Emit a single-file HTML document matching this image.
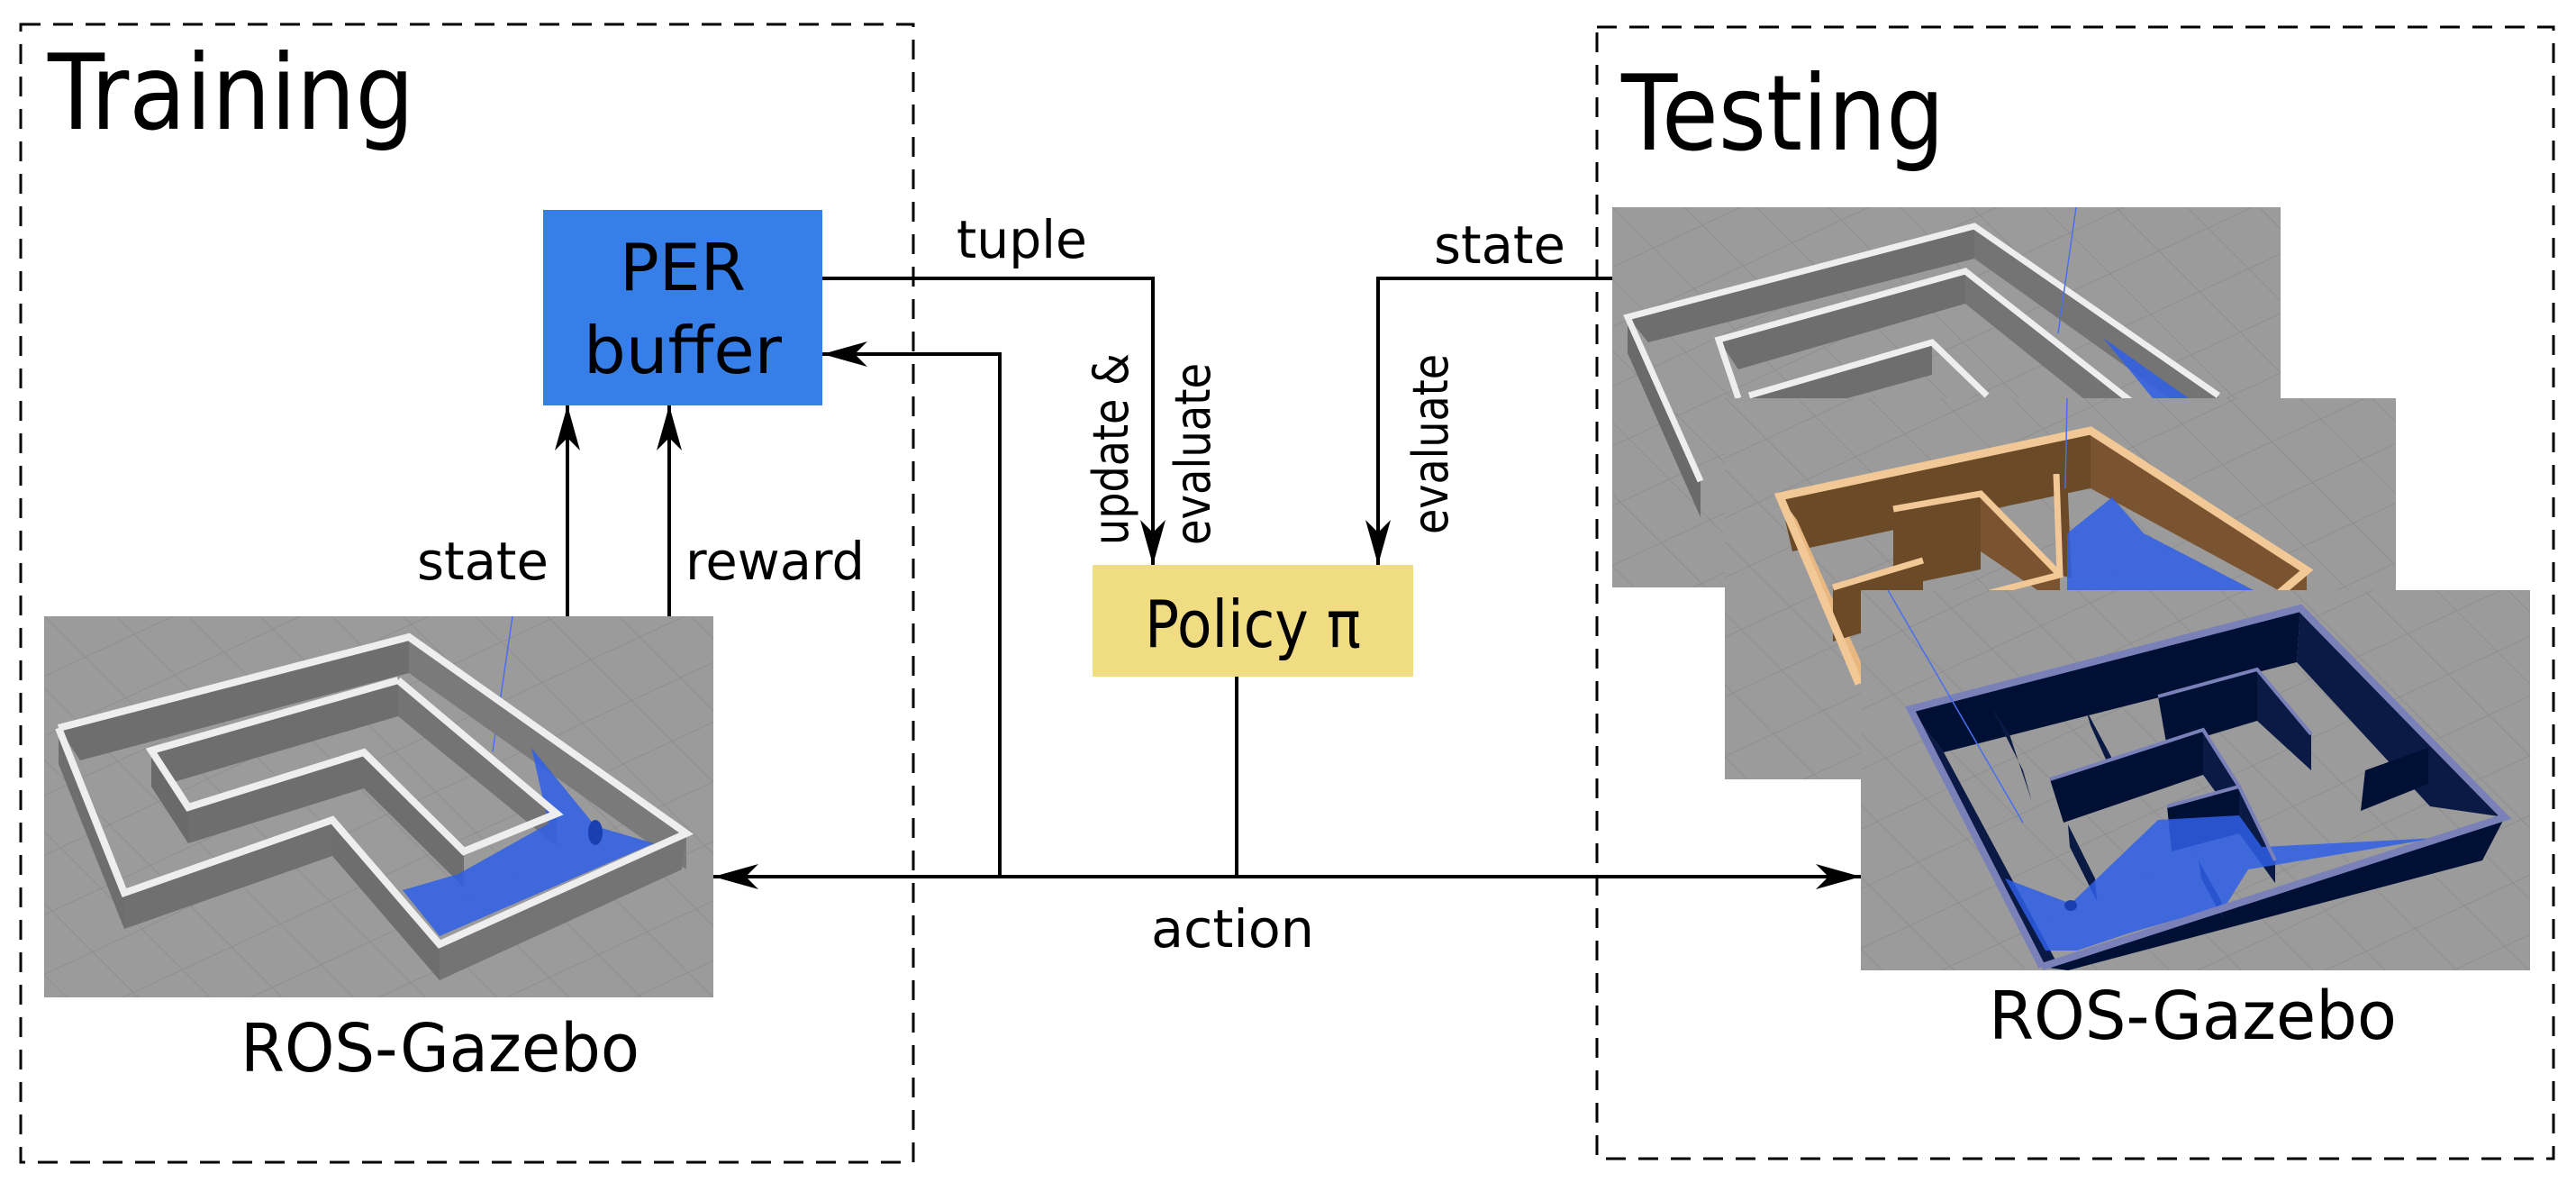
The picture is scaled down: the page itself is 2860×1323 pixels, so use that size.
<!DOCTYPE html>
<html><head><meta charset="utf-8"><style>
html,body{margin:0;padding:0;background:#fff;}
svg{display:block;}
text{font-family:"DejaVu Sans","Liberation Sans",sans-serif;fill:#000;}
</style></head><body>
<svg width="2860" height="1323" viewBox="0 0 2860 1323" xmlns="http://www.w3.org/2000/svg">
<defs>
<marker id="ah" viewBox="0 0 50 28" refX="50" refY="14" markerWidth="50" markerHeight="28" markerUnits="userSpaceOnUse" orient="auto">
<path d="M0,0 L50,14 L0,28 L14,14 Z" fill="#000"/>
</marker>
<pattern id="grid" width="60" height="60" patternUnits="userSpaceOnUse" patternTransform="rotate(-25) skewX(20)">
<rect width="60" height="60" fill="#9b9b9b"/>
<path d="M0,0 L60,0 M0,0 L0,60" stroke="#8a8a8a" stroke-width="1.5"/>
</pattern>
</defs>

<rect x="23" y="27" width="991" height="1263" fill="none" stroke="#000" stroke-width="3" stroke-dasharray="22,14"/>
<rect x="1773" y="30" width="1062" height="1256" fill="none" stroke="#000" stroke-width="3" stroke-dasharray="22,14"/>

<text x="53" y="143" font-size="116" textLength="407" lengthAdjust="spacingAndGlyphs">Training</text>
<text x="1800" y="166" font-size="116" textLength="359" lengthAdjust="spacingAndGlyphs">Testing</text>

<!-- Training image -->
<g transform="translate(49,684)">
<rect width="743" height="423" fill="url(#grid)"/>
<line x1="520" y1="0" x2="498" y2="150" stroke="#4a6ef0" stroke-width="1.5"/>
<polygon points="16,124 405,23 405,63 40,160" fill="#6e6e6e"/>
<polygon points="405,23 713,241 713,281 405,63" fill="#7a7a7a"/>
<polygon points="16,124 89,307 89,347 16,164" fill="#6e6e6e"/>
<polygon points="89,307 320,226 320,266 89,347" fill="#707070"/>
<polygon points="320,226 439,364 439,404 320,266" fill="#6e6e6e"/>
<polygon points="439,364 713,241 708,281 439,404" fill="#747474"/>
<polygon points="119,149 393,71 393,111 140,185" fill="#6e6e6e"/>
<polygon points="393,71 569,219 569,255 393,111" fill="#747474"/>
<polygon points="119,149 160,212 160,252 119,189" fill="#6a6a6a"/>
<polygon points="160,212 355,151 355,191 160,252" fill="#6e6e6e"/>
<polygon points="355,151 466,261 466,301 355,191" fill="#6e6e6e"/>
<polygon points="541,146 612,233 677,252 439,355 398,304 460,286 560,230" fill="#2f5fe8" opacity="0.85"/>
<ellipse cx="612" cy="240" rx="8" ry="14" fill="#1a3fb0"/>
<polyline points="16,124 405,23 713,241 439,364 320,226 89,307 16,124" fill="none" stroke="#eee" stroke-width="8"/>
<polyline points="393,71 119,149 160,212 355,151 466,261 569,219 393,71" fill="none" stroke="#eee" stroke-width="8"/>
</g>

<!-- Test image 1 -->
<g transform="translate(1790,230)">
<rect width="742" height="422" fill="url(#grid)"/>
<polygon points="17,122 402,21 402,57 40,150" fill="#6e6e6e"/>
<polygon points="402,21 673,209 673,250 402,57" fill="#747474"/>
<polygon points="17,122 98,304 98,344 17,162" fill="#6a6a6a"/>
<polygon points="118,147 392,71 392,107 140,180" fill="#6e6e6e"/>
<polygon points="392,71 620,250 620,290 392,107" fill="#747474"/>
<polygon points="152,209 355,150 355,186 160,240" fill="#6e6e6e"/>
<polygon points="545,145 640,212 600,212" fill="#2f5fe8" opacity="0.85"/>
<polyline points="98,304 17,122 402,21 673,209" fill="none" stroke="#eee" stroke-width="7"/>
<polyline points="140,212 118,147 392,71 620,250" fill="none" stroke="#eee" stroke-width="7"/>
<polyline points="152,209 355,150 416,209" fill="none" stroke="#eee" stroke-width="7"/>
<line x1="515" y1="0" x2="495" y2="140" stroke="#4a6ef0" stroke-width="1.5"/>
</g>

<!-- Test image 2 -->
<g transform="translate(1915,442)">
<rect width="745" height="423" fill="url(#grid)"/>
<polygon points="61,109 406,36 406,100 75,170" fill="#6b4a28"/>
<polygon points="406,36 646,191 646,230 406,100" fill="#7a5430"/>
<polygon points="61,109 149,317 162,317 80,135" fill="#e8b880"/>
<polygon points="187,123 284,106 284,190 187,210" fill="#6b4a28"/>
<polygon points="284,106 372,196 372,230 284,170" fill="#7a5430"/>
<polygon points="120,210 220,180 220,240 120,270" fill="#6b4a28"/>
<polygon points="368,84 372,196 385,200 380,84" fill="#6b4a28"/>
<polygon points="380,150 430,110 465,150 620,230 380,230" fill="#2f5fe8" opacity="0.85"/>
<polyline points="149,317 61,109 406,36 646,191 600,230" fill="none" stroke="#f2c896" stroke-width="9"/>
<polyline points="187,123 284,106 372,196" fill="none" stroke="#f2c896" stroke-width="7"/>
<polyline points="368,84 372,196 240,230" fill="none" stroke="#f2c896" stroke-width="7"/>
<polyline points="120,210 220,180" fill="none" stroke="#f2c896" stroke-width="7"/>
<line x1="380" y1="0" x2="378" y2="100" stroke="#4a6ef0" stroke-width="1.5"/>
</g>

<!-- Test image 3 -->
<g transform="translate(2066,655)">
<rect width="743" height="422" fill="url(#grid)"/>
<!-- back walls inner faces -->
<polygon points="55,132 488,20 484,80 92,180" fill="#001035"/>
<polygon points="488,20 715,252 632,240 484,80" fill="#0a1a45"/>
<polygon points="55,132 201,418 220,418 92,180" fill="#0a1a45"/>
<!-- front wall outer face -->
<polygon points="201,418 715,252 690,300 230,422" fill="#001035"/>
<!-- inner walls -->
<polygon points="145,130 180,200 190,235 165,160" fill="#0a1a45"/>
<polygon points="250,133 278,185 282,210 255,150" fill="#0a1a45"/>
<polygon points="330,118 440,88 440,145 340,175" fill="#001035"/>
<polygon points="440,88 500,160 500,200 440,145" fill="#0a1a45"/>
<polygon points="210,210 380,155 380,205 225,258" fill="#001035"/>
<polygon points="380,155 420,218 420,260 380,205" fill="#0a1a45"/>
<polygon points="340,240 420,218 420,270 345,290" fill="#001035"/>
<polygon points="420,218 460,300 460,325 420,270" fill="#0a1a45"/>
<polygon points="560,200 630,175 630,215 555,245" fill="#001035"/>
<polygon points="230,260 260,320 262,345 232,285" fill="#0a1a45"/>
<polygon points="375,300 400,345 402,365 378,320" fill="#0a1a45"/>
<polygon points="160,320 233,348 330,255 420,250 445,285 640,275 430,310 405,350 300,380 240,400 205,400" fill="#2f5fe8" opacity="0.85"/>
<ellipse cx="233" cy="350" rx="7" ry="6" fill="#1a3fb0"/>
<polyline points="201,418 55,132 488,20 715,252 201,418" fill="none" stroke="#7a80b8" stroke-width="8"/>
<polyline points="330,118 440,88 500,160" fill="none" stroke="#7a80b8" stroke-width="4"/>
<polyline points="210,210 380,155 420,218" fill="none" stroke="#7a80b8" stroke-width="4"/>
<polyline points="340,240 420,218 460,300" fill="none" stroke="#7a80b8" stroke-width="4"/>
<line x1="30" y1="0" x2="180" y2="258" stroke="#4a6ef0" stroke-width="1.5"/>
</g>

<!-- boxes -->
<rect x="603" y="233" width="310" height="217" fill="#367ee8"/>
<text x="758" y="322" font-size="72" text-anchor="middle" textLength="140" lengthAdjust="spacingAndGlyphs">PER</text>
<text x="758" y="414" font-size="72" text-anchor="middle" textLength="220" lengthAdjust="spacingAndGlyphs">buffer</text>
<rect x="1213" y="627" width="356" height="124" fill="#f0dc82"/>
<text x="1391" y="718" font-size="72" text-anchor="middle" textLength="240" lengthAdjust="spacingAndGlyphs">Policy π</text>

<g stroke="#000" stroke-width="4" fill="none">
<polyline points="913,309 1280,309 1280,627" marker-end="url(#ah)"/>
<polyline points="1790,309 1530,309 1530,627" marker-end="url(#ah)"/>
<polyline points="1110,973 1110,393 913,393" marker-end="url(#ah)"/>
<line x1="630" y1="684" x2="630" y2="450" marker-end="url(#ah)"/>
<line x1="743" y1="684" x2="743" y2="450" marker-end="url(#ah)"/>
<line x1="1373" y1="751" x2="1373" y2="973"/>
<line x1="1373" y1="973" x2="792" y2="973" marker-end="url(#ah)"/>
<line x1="1373" y1="973" x2="2066" y2="973" marker-end="url(#ah)"/>
</g>

<text x="1062" y="286" font-size="58" textLength="145" lengthAdjust="spacingAndGlyphs">tuple</text>
<text x="1592" y="292" font-size="58" textLength="146" lengthAdjust="spacingAndGlyphs">state</text>
<text x="463" y="643" font-size="58" textLength="146" lengthAdjust="spacingAndGlyphs">state</text>
<text x="761" y="643" font-size="58" textLength="199" lengthAdjust="spacingAndGlyphs">reward</text>
<text x="1278" y="1051" font-size="58" textLength="181" lengthAdjust="spacingAndGlyphs">action</text>
<text transform="translate(1252,605) rotate(-90)" font-size="54" textLength="213" lengthAdjust="spacingAndGlyphs">update &amp;</text>
<text transform="translate(1343,605) rotate(-90)" font-size="54" textLength="202" lengthAdjust="spacingAndGlyphs">evaluate</text>
<text transform="translate(1607,593) rotate(-90)" font-size="54" textLength="200" lengthAdjust="spacingAndGlyphs">evaluate</text>
<text x="267" y="1189" font-size="74" textLength="443" lengthAdjust="spacingAndGlyphs">ROS-Gazebo</text>
<text x="2208" y="1153" font-size="74" textLength="453" lengthAdjust="spacingAndGlyphs">ROS-Gazebo</text>
</svg>
</body></html>
